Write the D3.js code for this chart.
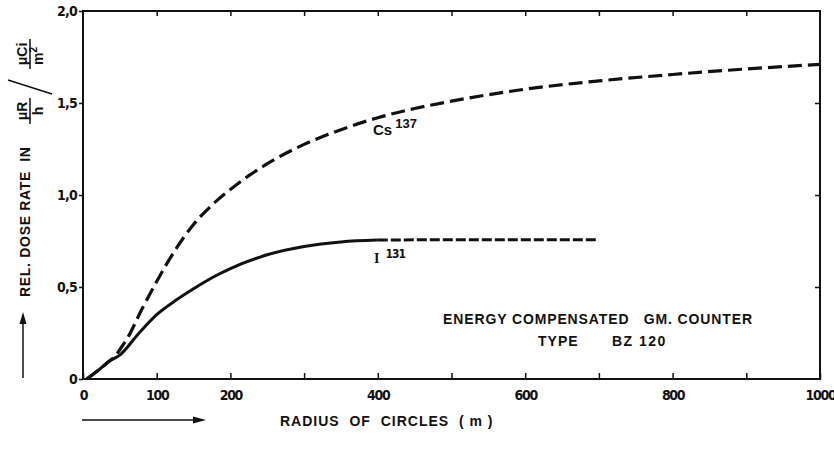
<!DOCTYPE html>
<html><head><meta charset="utf-8">
<script src="https://cdn.jsdelivr.net/npm/d3@7"></script>
<style>
body{margin:0;background:#fff;}
text{font-family:"DejaVu Sans Condensed","Liberation Sans Narrow",sans-serif;fill:#111;white-space:pre;}
text.w{font-family:"Liberation Sans",Arial,sans-serif;}
</style></head><body>
<svg id="c" width="834" height="466"></svg>
<script>
// data
const xTickValues = [0,100,200,300,400,500,600,700,800,900,1000];
const xTickLabels = ["0","100","200","","400","","600","","800","","1000"];
const yTickValues = [0,0.5,1.0,1.5,2.0];
const yTickLabels = ["0","0,5","1,0","1,5","2,0"];
const csRadius = [5,20,35,45,50,60,80,100,125,150,175,200,225,250,300,350,400,450,500,600,700,800,900,1000];
const csValue  = [0,0.045,0.095,0.13,0.16,0.22,0.38,0.53,0.70,0.84,0.945,1.03,1.105,1.17,1.275,1.355,1.42,1.47,1.51,1.575,1.62,1.655,1.685,1.71];
const iSolidRadius = [5,20,35,50,75,100,125,150,175,200,250,300,350,400];
const iSolidValue  = [0,0.045,0.095,0.13,0.245,0.35,0.425,0.49,0.55,0.60,0.675,0.72,0.745,0.755];
const iDashRadius = [400,500,600,700];
const iDashValue  = [0.755,0.757,0.757,0.757];

const svg = d3.select("#c");
const x = d3.scaleLinear().domain([0,1000]).range([83,820]);
const y = d3.scaleLinear().domain([0,2]).range([379,11]);

// frame
svg.append("rect").attr("x",x(0)).attr("y",y(2)).attr("width",x(1000)-x(0)).attr("height",y(0)-y(2))
  .attr("fill","none").attr("stroke","#111").attr("stroke-width",2);

// bottom axis ticks (inside) with labels
const gBottom = svg.append("g").attr("transform",`translate(0,${y(0)})`)
  .call(d3.axisBottom(x).tickValues(xTickValues).tickSizeInner(-6).tickSizeOuter(0).tickPadding(8)
    .tickFormat((d,i)=>xTickLabels[i]));
gBottom.select(".domain").remove();
gBottom.selectAll("line").attr("stroke","#111").attr("stroke-width",1.5);
gBottom.selectAll("text").attr("font-size",14).attr("font-weight","bold").attr("fill","#111")
  .attr("letter-spacing",-1.3).attr("dy","0.9em");

// top ticks
const gTop = svg.append("g").attr("transform",`translate(0,${y(2)})`)
  .call(d3.axisTop(x).tickValues(xTickValues.slice(1,-1)).tickSizeInner(-5).tickSizeOuter(0).tickFormat(""));
gTop.select(".domain").remove();
gTop.selectAll("line").attr("stroke","#111").attr("stroke-width",1.5);

// left axis
const gLeft = svg.append("g").attr("transform",`translate(${x(0)},0)`)
  .call(d3.axisLeft(y).tickValues(yTickValues).tickSizeInner(4).tickSizeOuter(0).tickPadding(2)
    .tickFormat((d,i)=>yTickLabels[i]));
gLeft.select(".domain").remove();
gLeft.selectAll("line").attr("stroke","#111").attr("stroke-width",1.5);
gLeft.selectAll("text").attr("font-size",14).attr("font-weight","bold").attr("fill","#111").attr("letter-spacing",-0.8);

// right ticks
const gRight = svg.append("g").attr("transform",`translate(${x(1000)},0)`)
  .call(d3.axisRight(y).tickValues(yTickValues.slice(1,-1)).tickSizeInner(-5).tickSizeOuter(0).tickFormat(""));
gRight.select(".domain").remove();
gRight.selectAll("line").attr("stroke","#111").attr("stroke-width",1.5);

// curves
const line = d3.line().x(d=>x(d[0])).y(d=>y(d[1])).curve(d3.curveMonotoneX);
const cs = csRadius.map((r,i)=>[r,csValue[i]]);
const iS = iSolidRadius.map((r,i)=>[r,iSolidValue[i]]);
const iD = iDashRadius.map((r,i)=>[r,iDashValue[i]]);
svg.append("path").attr("d",line(iS)).attr("fill","none").attr("stroke","#111").attr("stroke-width",3);
svg.append("path").attr("d",line(iD)).attr("fill","none").attr("stroke","#111").attr("stroke-width",3).attr("stroke-dasharray","10,3");
svg.append("path").attr("d",line(cs)).attr("fill","none").attr("stroke","#111").attr("stroke-width",3.2).attr("stroke-dasharray","14,6");

// curve labels
const csL = svg.append("text").attr("class","w").attr("x",373).attr("y",135).attr("font-size",15).attr("font-weight","bold");
csL.append("tspan").text("Cs");
csL.append("tspan").attr("dx",3).attr("dy",-7).attr("font-size",13).text("137");
const iL = svg.append("text").attr("x",374).attr("y",263).attr("font-size",14).attr("font-weight","bold");
iL.append("tspan").attr("font-family","Liberation Serif, serif").text("I");
iL.append("tspan").attr("dx",6).attr("dy",-5).attr("font-size",12).attr("letter-spacing",-1).text("131");

// annotation
const tn = (xx,yy,txt,ls)=>svg.append("text").attr("class","w").attr("x",xx).attr("y",yy).attr("font-size",14)
  .attr("font-weight","bold").attr("letter-spacing",ls).text(txt);
svg.append("text").attr("class","w").attr("x",443).attr("y",324).attr("font-size",14).attr("font-weight","bold")
  .attr("textLength",309).attr("lengthAdjust","spacing").text("ENERGY COMPENSATED   GM. COUNTER");
tn(538,346,"TYPE",1);
tn(612,346,"BZ 120",1.5);

// x axis title and arrow
tn(280,426,"RADIUS  OF  CIRCLES  ( m )",1);
svg.append("line").attr("x1",82).attr("x2",196).attr("y1",420).attr("y2",420).attr("stroke","#111").attr("stroke-width",1.5);
svg.append("path").attr("d","M206,420 L193,416.5 L193,423.5 Z").attr("fill","#111");

// y axis title
const yt = svg.append("g").attr("transform","rotate(-90)");
yt.append("text").attr("class","w").attr("x",-297).attr("y",30).attr("font-size",14).attr("font-weight","bold")
  .attr("textLength",150).attr("lengthAdjust","spacing").text("REL. DOSE RATE  IN");
// fraction μR/h
yt.append("text").attr("class","w").attr("x",-111).attr("y",27).attr("text-anchor","middle").attr("font-size",14).attr("font-weight","bold").text("μR");
yt.append("line").attr("x1",-124).attr("x2",-98).attr("y1",30).attr("y2",30).attr("stroke","#111").attr("stroke-width",1.5);
yt.append("text").attr("class","w").attr("x",-111).attr("y",43).attr("text-anchor","middle").attr("font-size",14).attr("font-weight","bold").text("h");
// fraction μCi/m²
yt.append("text").attr("class","w").attr("x",-54).attr("y",27).attr("text-anchor","middle").attr("font-size",14).attr("font-weight","bold").text("μCi");
yt.append("line").attr("x1",-69).attr("x2",-39).attr("y1",30).attr("y2",30).attr("stroke","#111").attr("stroke-width",1.5);
const m2 = yt.append("text").attr("class","w").attr("x",-56).attr("y",43).attr("text-anchor","middle").attr("font-size",14).attr("font-weight","bold");
m2.append("tspan").text("m");
m2.append("tspan").attr("dy",-6).attr("font-size",10).text("2");
// slash
svg.append("line").attr("x1",8).attr("y1",80).attr("x2",52).attr("y2",94).attr("stroke","#111").attr("stroke-width",1.5);
// y arrow
svg.append("line").attr("x1",23).attr("x2",23).attr("y1",378).attr("y2",322).attr("stroke","#111").attr("stroke-width",1.5);
svg.append("path").attr("d","M23,312 L19.5,324 L26.5,324 Z").attr("fill","#111");
</script></body></html>
